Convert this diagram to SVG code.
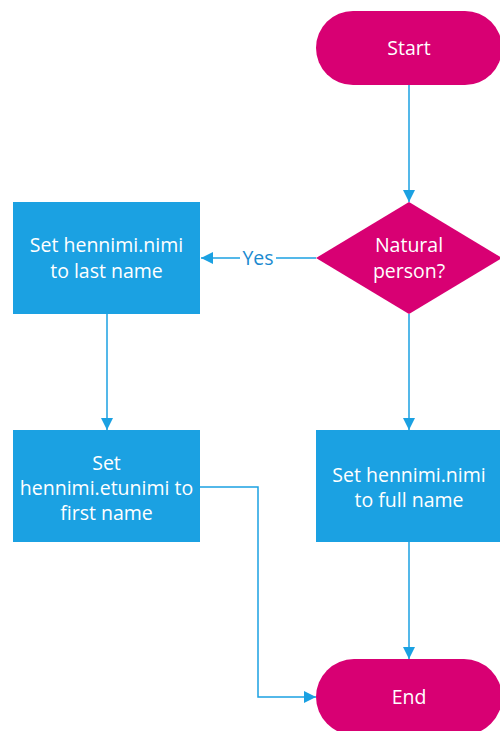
<svg xmlns="http://www.w3.org/2000/svg" width="500" height="731" viewBox="0 0 500 731">
  <style>
    .term { fill: #d80073; }
    .proc { fill: #1ba1e2; }
    .lbl { fill: #ffffff; font-family: "Open Sans", "Noto Sans", sans-serif; font-size: 19.5px; text-anchor: middle; dominant-baseline: central; }
    .edge { fill: none; stroke: #1ba1e2; stroke-width: 1.5; marker-end: url(#arrow); }
    .elbl { fill: #1a8ad0; font-family: "Open Sans", "Noto Sans", sans-serif; font-size: 19.5px; text-anchor: middle; dominant-baseline: central; }
  </style>
  <defs>
    <marker id="arrow" viewBox="0 0 12 12" refX="12" refY="6" markerWidth="12" markerHeight="12" markerUnits="userSpaceOnUse" orient="auto">
      <path d="M0,0 L12,6 L0,12 Z" fill="#1ba1e2"/>
    </marker>
  </defs>

  <rect width="500" height="731" fill="#ffffff"/>

  <g id="connectors">
    <path class="edge" d="M409,85 V202"/>
    <path class="edge" d="M316,258 H201"/>
    <path class="edge" d="M107,314 V430"/>
    <path class="edge" d="M409,314 V430"/>
    <path class="edge" d="M409,542 V659"/>
    <path class="edge" d="M200,487 H258 V697 H316"/>
    <rect x="240" y="247" width="36" height="22" fill="#ffffff"/>
    <text class="elbl" x="258" y="257">Yes</text>
  </g>

  <g id="start">
    <rect class="term" x="316" y="11" width="186" height="74" rx="37"/>
    <text class="lbl" x="409" y="47">Start</text>
  </g>

  <g id="decision">
    <polygon class="term" points="409,202 502,258 409,314 316,258"/>
    <text class="lbl" x="409" y="244">Natural</text>
    <text class="lbl" x="409" y="270">person?</text>
  </g>

  <g id="set-last">
    <rect class="proc" x="13" y="202" width="187" height="112"/>
    <text class="lbl" x="106.5" y="244">Set hennimi.nimi</text>
    <text class="lbl" x="106.5" y="270">to last name</text>
  </g>

  <g id="set-first">
    <rect class="proc" x="13" y="430" width="187" height="112"/>
    <text class="lbl" x="106.5" y="462">Set</text>
    <text class="lbl" x="106.5" y="487">hennimi.etunimi to</text>
    <text class="lbl" x="106.5" y="512">first name</text>
  </g>

  <g id="set-full">
    <rect class="proc" x="316" y="430" width="186" height="112"/>
    <text class="lbl" x="409" y="474">Set hennimi.nimi</text>
    <text class="lbl" x="409" y="499">to full name</text>
  </g>

  <g id="end">
    <rect class="term" x="316" y="659" width="186" height="76" rx="38"/>
    <text class="lbl" x="409" y="696">End</text>
  </g>
</svg>
